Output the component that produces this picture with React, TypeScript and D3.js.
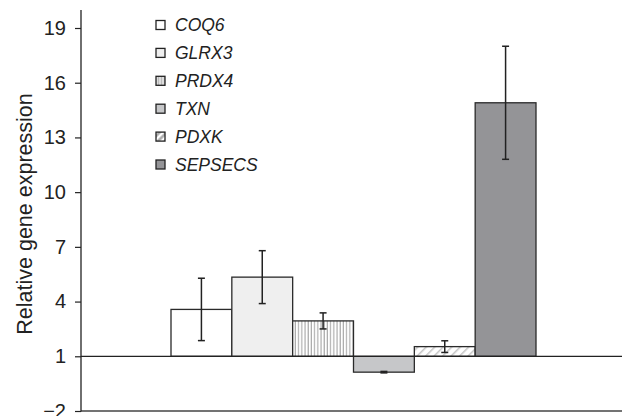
import React, { useEffect, useRef } from "react";
import * as d3 from "d3";

const genes = ["COQ6", "GLRX3", "PRDX4", "TXN", "PDXK", "SEPSECS"];
const values = [3.57, 5.34, 2.94, 0.13, 1.53, 14.9];
const errors = [1.71, 1.45, 0.44, 0.04, 0.32, 3.1];
const fills = ["#ffffff", "#efefef", "url(#vstripe)", "#c6c7c9", "url(#dhatch)", "#949497"];
const legendFills = ["#ffffff", "#efefef", "url(#vstripeS)", "#c6c7c9", "url(#dhatchS)", "#949497"];
const yTicks = [-2, 1, 4, 7, 10, 13, 16, 19];
const baselineValue = 1;
const yTitle = "Relative gene expression";

export default function App() {
  const ref = useRef<SVGSVGElement>(null);
  useEffect(() => {
    const svg = d3.select(ref.current);
    svg.selectAll("*").remove();
    const axisX = 81;
    const y = d3.scaleLinear().domain([-2, 19]).range([411, 28]);
    const x = d3.scaleBand<string>().domain(genes).range([171, 536]).padding(0);

    const defs = svg.append("defs");
    const vp = defs.append("pattern").attr("id", "vstripe").attr("patternUnits", "userSpaceOnUse")
      .attr("width", 3.2).attr("height", 10);
    vp.append("rect").attr("width", 3.2).attr("height", 10).attr("fill", "#fff");
    vp.append("line").attr("x1", 1).attr("x2", 1).attr("y1", 0).attr("y2", 10)
      .attr("stroke", "#9a9a9a").attr("stroke-width", 1);
    const vs = defs.append("pattern").attr("id", "vstripeS").attr("patternUnits", "userSpaceOnUse")
      .attr("width", 3).attr("height", 10).attr("x", 157.5);
    vs.append("rect").attr("width", 3).attr("height", 10).attr("fill", "#fff");
    vs.append("line").attr("x1", 1).attr("x2", 1).attr("y1", 0).attr("y2", 10)
      .attr("stroke", "#777").attr("stroke-width", 1);
    const dp = defs.append("pattern").attr("id", "dhatch").attr("patternUnits", "userSpaceOnUse")
      .attr("width", 6).attr("height", 6).attr("patternTransform", "rotate(45)");
    dp.append("rect").attr("width", 6).attr("height", 6).attr("fill", "#fff");
    dp.append("line").attr("x1", 0).attr("x2", 0).attr("y1", 0).attr("y2", 6)
      .attr("stroke", "#c4c4c4").attr("stroke-width", 3);
    const ds = defs.append("pattern").attr("id", "dhatchS").attr("patternUnits", "userSpaceOnUse")
      .attr("width", 5).attr("height", 5).attr("patternTransform", "rotate(45)");
    ds.append("rect").attr("width", 5).attr("height", 5).attr("fill", "#fff");
    ds.append("line").attr("x1", 1.5).attr("x2", 1.5).attr("y1", 0).attr("y2", 5)
      .attr("stroke", "#aaa").attr("stroke-width", 2.5);

    const font = "'Liberation Sans', Arial, Helvetica, sans-serif";

    // bars
    const g = svg.append("g");
    genes.forEach((gname, i) => {
      const v = values[i];
      const y0 = y(baselineValue), y1 = y(v);
      g.append("rect")
        .attr("x", x(gname)!)
        .attr("y", Math.min(y0, y1))
        .attr("width", x.bandwidth())
        .attr("height", Math.abs(y1 - y0))
        .attr("fill", fills[i])
        .attr("stroke", "#2a2a2a")
        .attr("stroke-width", 1.3);
    });

    // baseline & bottom line
    svg.append("line").attr("x1", axisX).attr("x2", 622).attr("y1", y(baselineValue)).attr("y2", y(baselineValue))
      .attr("stroke", "#222").attr("stroke-width", 1.3);
    svg.append("line").attr("x1", axisX).attr("x2", 622).attr("y1", y(-2)).attr("y2", y(-2))
      .attr("stroke", "#444").attr("stroke-width", 1.3);

    // error bars
    genes.forEach((gname, i) => {
      const cx = x(gname)! + x.bandwidth() / 2;
      const lo = y(values[i] - errors[i]), hi = y(values[i] + errors[i]);
      const eg = g.append("g").attr("stroke", "#222").attr("stroke-width", 1.5);
      eg.append("line").attr("x1", cx).attr("x2", cx).attr("y1", lo).attr("y2", hi);
      eg.append("line").attr("x1", cx - 3.5).attr("x2", cx + 3.5).attr("y1", lo).attr("y2", lo);
      eg.append("line").attr("x1", cx - 3.5).attr("x2", cx + 3.5).attr("y1", hi).attr("y2", hi);
    });

    // y axis
    const ax = svg.append("g").attr("transform", `translate(${axisX},0)`)
      .call(d3.axisLeft(y).tickValues(yTicks).tickSize(6).tickPadding(9).tickSizeOuter(0));
    ax.select(".domain").remove();
    ax.selectAll("line").attr("stroke", "#222").attr("stroke-width", 1.2);
    ax.selectAll("text").attr("font-family", font).attr("font-size", 20).attr("fill", "#222");
    svg.append("line").attr("x1", axisX).attr("x2", axisX).attr("y1", y(-2) + 0.6).attr("y2", 10)
      .attr("stroke", "#222").attr("stroke-width", 1.3);

    svg.append("text")
      .attr("transform", `translate(32,214) rotate(-90)`)
      .attr("text-anchor", "middle")
      .attr("font-family", font).attr("font-size", 21.5).attr("fill", "#222")
      .text(yTitle);

    // legend
    const lg = svg.append("g");
    genes.forEach((gname, i) => {
      const cy = 25 + i * 27.9;
      lg.append("rect").attr("x", 156).attr("y", cy - 4.5).attr("width", 9).attr("height", 9)
        .attr("fill", legendFills[i]).attr("stroke", "#222").attr("stroke-width", 1.3);
      lg.append("text").attr("x", 175).attr("y", cy).attr("dy", "0.36em")
        .attr("font-family", font).attr("font-size", 17.5).attr("font-style", "italic").attr("fill", "#222")
        .text(gname);
    });
  }, []);
  return (
    <svg ref={ref} width={624} height={416} style={{ position: "absolute", left: 0, top: 0, background: "#fff" }} />
  );
}
